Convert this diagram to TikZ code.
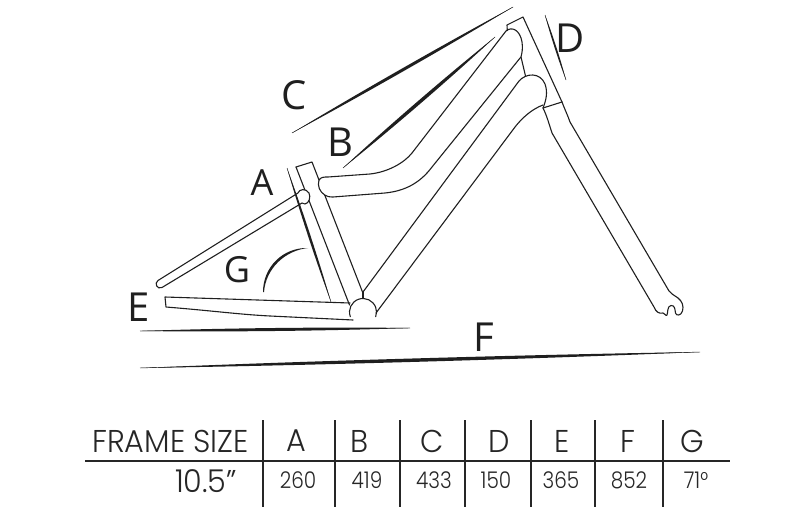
\documentclass[tikz,border=0pt]{standalone}
\usepackage{fontspec}
\setmainfont{Open Sans}
\newfontfamily\tabfont[FakeStretch=0.96]{Poppins Light}
\newfontfamily\valfont[FakeStretch=0.87]{Poppins Light}
\usetikzlibrary{calc}
\newcommand\taperline[3]{%
  \fill[black!88] (#1) .. controls ($(#1)!0.3!(#2)!#3!90:(#2)$) and ($(#1)!0.7!(#2)!#3!90:(#2)$) .. (#2)
    .. controls ($(#1)!0.7!(#2)!#3!-90:(#2)$) and ($(#1)!0.3!(#2)!#3!-90:(#2)$) .. (#1) -- cycle;
  \draw[black!88, line width=0.45pt] (#1) -- (#2);}
\begin{document}
\begin{tikzpicture}[x=1pt,y=-1pt,
  tube/.style={line width=1.1pt, draw=black!88, line join=round, line cap=round},
  lbl/.style={inner sep=0pt, text=black!88, font=\fontsize{40}{40}\selectfont},
  lblsmall/.style={inner sep=0pt, text=black!88, font=\fontsize{36}{36}\selectfont},
  rulestyle/.style={line width=2pt, draw=black!85},
  head/.style={inner sep=0pt, text=black!85, font=\tabfont\fontsize{31.5}{32}\selectfont},
  val/.style={inner sep=0pt, text=black!85, font=\valfont\fontsize{23}{24}\selectfont}]
\useasboundingbox (0,0) rectangle (800,532);

% ---------- seat tube ----------
\draw[tube] (296,167) -- (312,162) -- (319,180);
\draw[tube] (296,167) -- (349.5,305);
\draw[tube] (324.7,195) -- (362.5,292);

% ---------- top tube ----------
\draw[tube] (319,180) .. controls (321,177) and (324,177) .. (328,177) -- (370,174)
  .. controls (388,172) and (404,163) .. (412,153) -- (506,31);
\draw[tube] (319,180) .. controls (317,186) and (320,192) .. (324.7,195)
  .. controls (327,196.5) and (329,197) .. (333,197) -- (385,193)
  .. controls (405,191) and (420,183) .. (432,167) -- (520.5,57.5);
\draw[tube] (506,31) .. controls (512,26) and (520,30) .. (522,42) .. controls (523,48) and (522,53) .. (521,57);

% ---------- head tube ----------
\draw[tube] (507.3,30.5) -- (507,25) -- (523,17) -- (562,102);
\draw[tube] (521,57) -- (525.5,76);
\draw[tube] (543,108) -- (562,102);

% ---------- down tube ----------
\draw[tube] (363,292) -- (519,81) .. controls (526,73) and (540,72) .. (545,84)
  .. controls (548,92) and (546,101) .. (543,108);
\draw[tube] (376,313) -- (515,127) .. controls (522,118) and (532,109) .. (543,105);

% ---------- bottom bracket ----------
\draw[tube] (363,292) -- (363,298.5);
\draw[tube] (363,312) ++(160:13.5) arc[start angle=160, end angle=380, radius=13.5];

% ---------- chain stay ----------
\draw[tube] (350,303) -- (165,297) -- (166,307) .. controls (215,311) and (240,314.5) .. (270,316) -- (353,320);

% ---------- seat stay ----------
\draw[tube] (298,193) -- (158,280.5) .. controls (154,283) and (157,290) .. (162,287.5) -- (302,203);
\fill[white] (298,193) .. controls (299,189) and (306,188) .. (309,193) .. controls (311,197) and (309,203.5) .. (305,204) -- (302,203) -- cycle;
\draw[tube] (298,193) .. controls (299,189) and (306,188) .. (309,193) .. controls (311,197) and (309,203.5) .. (305,204) -- (302,203);

% ---------- fork ----------
\draw[tube] (543,108) .. controls (547,116) and (549,124) .. (552,133) -- (654,307)
  .. controls (656,312) and (659,314) .. (663,313) .. controls (665,313) and (666,317) .. (667,315)
  .. controls (668,313) and (667,306) .. (671,305.5) .. controls (675,305) and (675,310) .. (675.5,313)
  .. controls (676,316) and (681,316) .. (682.5,311) .. controls (684,306) and (682,301) .. (678,298)
  .. controls (674,295) and (671,294) .. (669,291) -- (570,122) .. controls (568,116) and (565,110) .. (562,102);

% ---------- dimension lines ----------
\coordinate (c1) at (292,133); \coordinate (c2) at (513,7);
\coordinate (b1) at (343,168); \coordinate (b2) at (495,37);
\coordinate (d1) at (545,15);  \coordinate (d2) at (566,80);
\coordinate (a1) at (287,168); \coordinate (a2) at (331,302);
\coordinate (e1) at (140,331); \coordinate (e2) at (410,328);
\coordinate (f1) at (140,368); \coordinate (f2) at (700,352);
\taperline{c1}{c2}{2pt}
\taperline{b1}{b2}{2.3pt}
\taperline{d1}{d2}{1.2pt}
\taperline{a1}{a2}{1.6pt}
\taperline{e1}{e2}{2pt}
\taperline{f1}{f2}{2.3pt}
% angle arc G
\fill[black!88] (263,292) .. controls (263,267) and (283,247.3) .. (308,248)
  .. controls (285,250.5) and (265.8,268.5) .. (264,292) -- cycle;

% ---------- labels ----------
\node[lbl] (lC) at (294,95) {C};
\node[lbl] (lB) at (340,142) {B};
\node[lblsmall] (lA) at (262,183) {A};
\node[lblsmall] (lG) at (237,270) {G};
\node[lbl] (lE) at (139,307) {E};
\node[lbl] (lD) at (570,38) {D};
\node[lbl] (lF) at (484,337) {F};

% ---------- table ----------
\draw[rulestyle] (85,461) -- (730,461);
\foreach \x in {263,335,400,465,531,595,663} \draw[rulestyle] (\x,420) -- (\x,507);
\node[head] (hfs) at (170.5,441) {FRAME SIZE};
\node[head] (hA) at (296,441) {A};
\node[head] (hB) at (360,441) {B};
\node[head] (hC) at (432,441) {C};
\node[head] (hD) at (499,441) {D};
\node[head] (hE) at (562,441) {E};
\node[head] (hF) at (628,441) {F};
\node[head] (hG) at (692,441) {G};
\node[head] (vsz) at (206,481.5) {10.5”};
\node[val] (vA) at (298,480) {260};
\node[val] (vB) at (367,480) {419};
\node[val] (vC) at (434,480) {433};
\node[val] (vD) at (496,480) {150};
\node[val] (vE) at (561,480) {365};
\node[val] (vF) at (629,480) {852};
\node[val] (vG) at (696,480) {71°};
\end{tikzpicture}
\end{document}
